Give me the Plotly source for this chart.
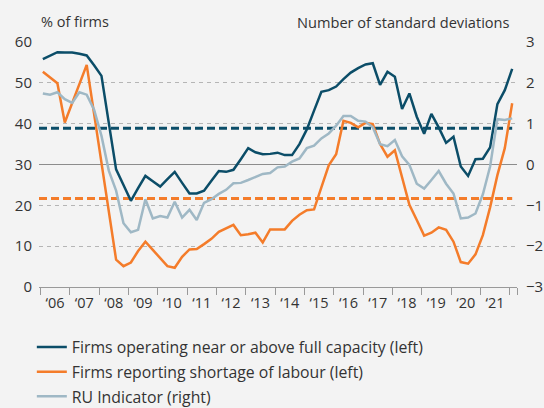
import pandas as pd
import plotly.graph_objects as go

# ---------------- data ----------------
quarters = pd.period_range("2006Q1", "2022Q1", freq="Q")
x_dates = [p.start_time + pd.Timedelta(days=30) for p in quarters]

capacity = [55.8, 56.6, 57.5, 57.4, 57.4, 57.1, 56.7, 54.3, 51.7, 40.2,
            28.8, 25.0, 21.1, 24.2, 27.2, 25.9, 24.6, 26.4, 28.2, 25.5,
            22.9, 22.9, 23.6, 26.0, 28.4, 28.2, 28.7, 31.3, 34.0, 33.0,
            32.5, 32.6, 32.9, 32.3, 32.3, 35.0, 38.6, 43.2, 47.8, 48.2,
            49.1, 50.9, 52.5, 53.6, 54.5, 54.8, 49.5, 52.7, 51.5, 43.6,
            47.4, 41.7, 37.5, 42.4, 39.1, 35.3, 36.8, 29.5, 27.2, 31.3,
            31.4, 34.2, 44.8, 48.2, 53.4]

labour = [52.7, 51.3, 49.9, 40.3, 45.0, 49.7, 54.4, 42.4, 30.5, 18.5,
          6.7, 5.1, 6.0, 8.8, 11.1, 9.1, 7.0, 5.1, 4.7, 7.4,
          9.2, 9.3, 10.5, 11.8, 13.5, 14.4, 15.2, 12.7, 12.9, 13.3,
          10.9, 14.1, 14.1, 14.1, 16.2, 17.7, 18.8, 19.0, 24.4, 29.8,
          32.5, 40.7, 40.2, 39.1, 40.2, 39.9, 35.0, 31.9, 33.5, 27.0,
          20.1, 16.4, 12.6, 13.3, 14.6, 14.0, 11.1, 6.1, 5.7, 8.0,
          12.7, 19.5, 27.4, 34.0, 45.0]

ru_indicator = [1.74, 1.71, 1.77, 1.60, 1.51, 1.77, 1.71, 1.34, 0.70, -0.15,
                -0.64, -1.44, -1.66, -1.60, -0.85, -1.32, -1.26, -1.30, -0.91, -1.30,
                -1.11, -1.36, -0.94, -0.85, -0.72, -0.62, -0.46, -0.45, -0.38, -0.30,
                -0.23, -0.21, -0.07, -0.05, 0.07, 0.15, 0.40, 0.46, 0.64, 0.76,
                0.95, 1.19, 1.19, 1.07, 1.05, 0.91, 0.50, 0.45, 0.60, 0.20,
                -0.01, -0.47, -0.59, -0.38, -0.16, -0.47, -0.71, -1.32, -1.30, -1.20,
                -0.73, -0.05, 1.11, 1.09, 1.13]

capacity_avg = 38.9
labour_avg = 21.7

years = list(range(2006, 2022))
year_labels = ["\u2018" + str(y)[2:] for y in years]

names = ["Firms operating near or above full capacity (left)",
         "Firms reporting shortage of labour (left)",
         "RU Indicator (right)"]

# ---------------- style ----------------
BLUE = "#0b4d68"
ORANGE = "#f47c2a"
LIGHT = "#9fb8c5"
BG = "#f3f3f3"
TXT = "#333333"
FONT = "Open Sans"

x_start = pd.Timestamp("2005-12-14")
x_end = pd.Timestamp("2022-04-01")

fig = go.Figure()

# average lines
fig.add_trace(go.Scatter(x=[x_start, x_dates[-1]], y=[capacity_avg] * 2, mode="lines",
                         line=dict(color=BLUE, width=3, dash="8px,4px"),
                         showlegend=False, hoverinfo="skip"))
fig.add_trace(go.Scatter(x=[x_start, x_dates[-1]], y=[labour_avg] * 2, mode="lines",
                         line=dict(color=ORANGE, width=3, dash="8px,4px"),
                         showlegend=False, hoverinfo="skip"))

fig.add_trace(go.Scatter(x=x_dates, y=capacity, mode="lines", name=names[0],
                         line=dict(color=BLUE, width=2.5), legendgroup="a"))
fig.add_trace(go.Scatter(x=x_dates, y=labour, mode="lines", name=names[1],
                         line=dict(color=ORANGE, width=2.5), legendgroup="b"))
fig.add_trace(go.Scatter(x=x_dates, y=ru_indicator, mode="lines", name=names[2],
                         line=dict(color=LIGHT, width=2.5), yaxis="y2", legendgroup="c"))

tick_dates = [pd.Timestamp(f"{y}-01-01") for y in years + [2022]] + [x_end]
label_dates = [pd.Timestamp(f"{y}-07-02") for y in years]

fig.update_layout(
    width=544, height=408,
    margin=dict(l=39, r=27, t=42, b=121, autoexpand=False),
    paper_bgcolor=BG, plot_bgcolor=BG,
    font=dict(family=FONT, size=15, color=TXT),
    xaxis=dict(type="date", range=[x_start, x_end],
               tickmode="array", tickvals=label_dates, ticktext=year_labels,
               ticks="", showgrid=False, zeroline=False,
               showline=True, linecolor="#999999", linewidth=1,
               minor=dict(tickmode="array", tickvals=tick_dates, ticks="outside",
                          ticklen=7, tickcolor="#999999", tickwidth=1, showgrid=False),
               tickfont=dict(size=14.5, color=TXT), ticklabelstandoff=3),
    yaxis=dict(range=[0, 60], tickvals=[0, 10, 20, 30, 40, 50, 60],
               showgrid=True, gridcolor="#b5b5b5", griddash="4px,4px", gridwidth=1,
               zeroline=False, ticks="", ticklabelstandoff=6,
               tickfont=dict(size=15, color=TXT)),
    yaxis2=dict(range=[-3, 3], tickvals=[-3, -2, -1, 0, 1, 2, 3],
                overlaying="y", side="right", showgrid=False,
                zeroline=True, zerolinecolor="#8c8c8c", zerolinewidth=1,
                ticks="", ticklabelstandoff=8,
                tickfont=dict(size=15, color=TXT)),
    legend=dict(x=-0.015, y=-0.176, xanchor="left", yanchor="top",
                bgcolor="rgba(0,0,0,0)", tracegroupgap=1.2,
                font=dict(size=15.8, color=TXT)),
    showlegend=True,
)

fig.add_annotation(text="% of firms", xref="paper", yref="paper",
                   x=-0.0, y=1.082, xanchor="left", yanchor="middle",
                   showarrow=False, font=dict(size=14.5, color=TXT))
fig.add_annotation(text="Number of standard deviations", xref="paper", yref="paper",
                   x=0.9895, y=1.082, xanchor="right", yanchor="middle",
                   showarrow=False, font=dict(size=14.6, color=TXT))

fig.write_html("out.html", config={"displayModeBar": False},
               post_script="document.body.style.margin='0px';document.body.style.padding='0px';")
